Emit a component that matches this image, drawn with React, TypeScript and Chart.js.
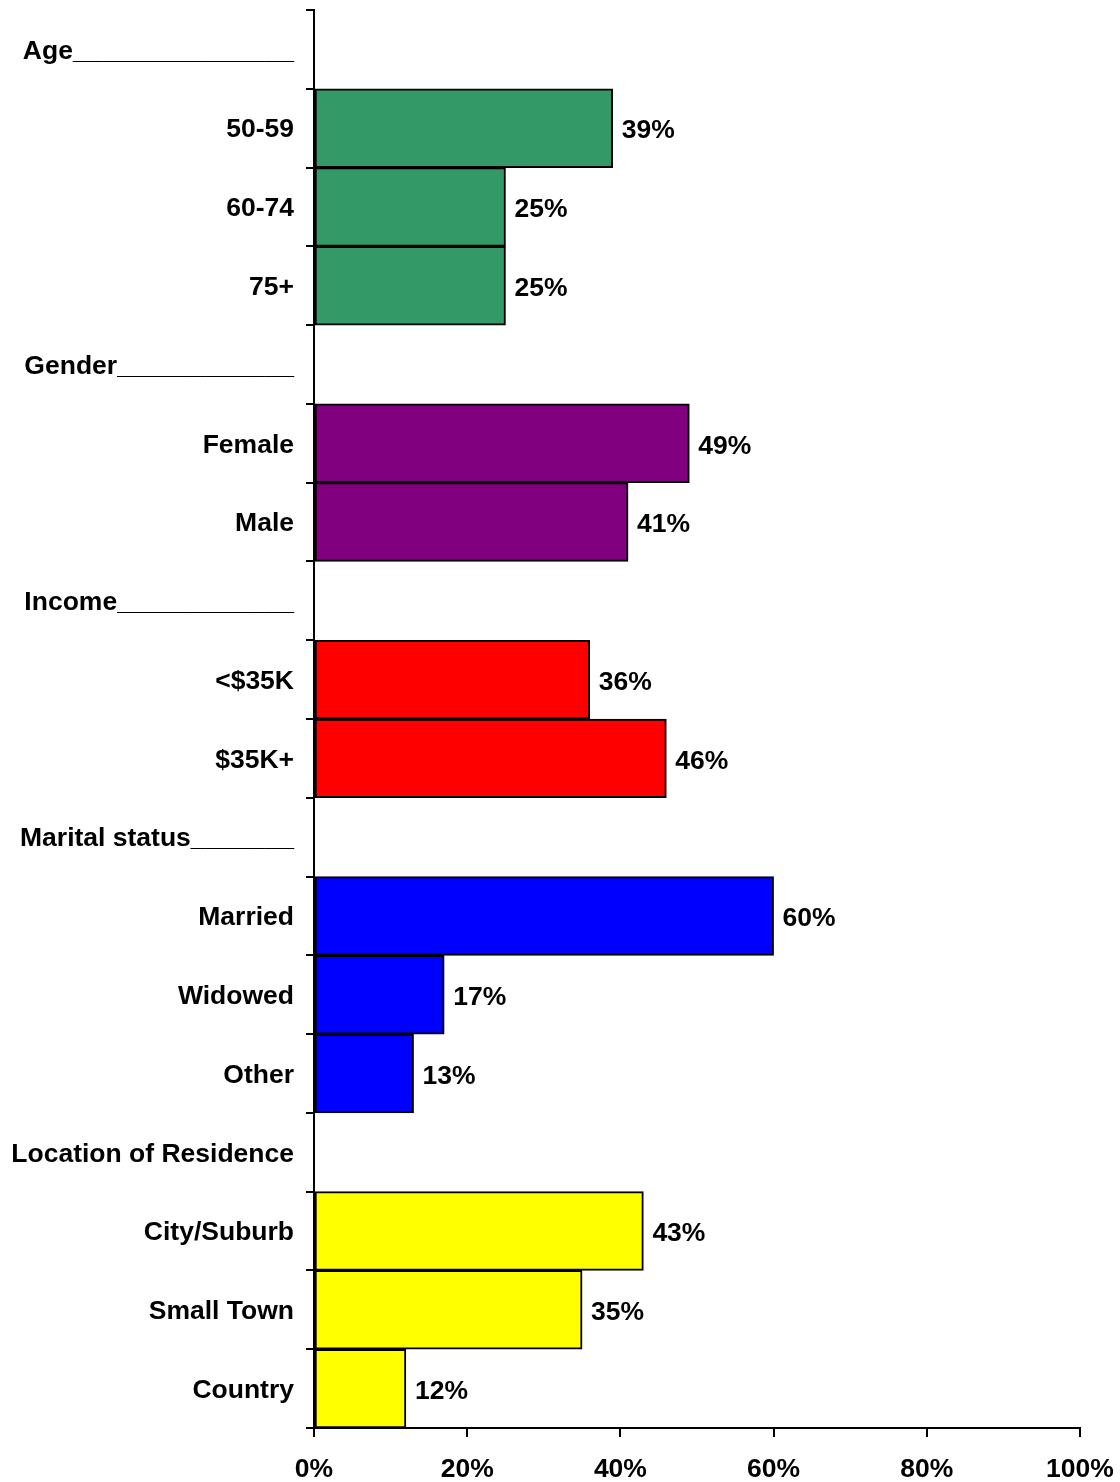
import React, { useEffect, useRef } from "react";
import { Chart, registerables } from "chart.js";

Chart.register(...registerables);

const categories: string[] = [
  "Age_______________",
  "50-59",
  "60-74",
  "75+",
  "Gender____________",
  "Female",
  "Male",
  "Income____________",
  "<$35K",
  "$35K+",
  "Marital status_______",
  "Married",
  "Widowed",
  "Other",
  "Location of Residence",
  "City/Suburb",
  "Small Town",
  "Country",
];

const values: (number | null)[] = [
  null, 39, 25, 25,
  null, 49, 41,
  null, 36, 46,
  null, 60, 17, 13,
  null, 43, 35, 12,
];

const barColors: string[] = [
  "#339966", "#339966", "#339966", "#339966",
  "#800080", "#800080", "#800080",
  "#FF0000", "#FF0000", "#FF0000",
  "#0000FF", "#0000FF", "#0000FF", "#0000FF",
  "#FFFF00", "#FFFF00", "#FFFF00", "#FFFF00",
];

const xTicks: number[] = [0, 20, 40, 60, 80, 100];

const FONT = "'Liberation Sans', Arial, sans-serif";
const FSIZE = 26.5;

const valueLabelPlugin = {
  id: "valueLabels",
  afterDatasetsDraw(chart: any) {
    const ctx = chart.ctx;
    const meta = chart.getDatasetMeta(0);
    ctx.save();
    ctx.font = `bold ${FSIZE}px ${FONT}`;
    ctx.fillStyle = "#000";
    ctx.textAlign = "left";
    ctx.textBaseline = "middle";
    meta.data.forEach((bar: any, i: number) => {
      const v = values[i];
      if (v === null || v === undefined) return;
      ctx.fillText(`${v}%`, bar.x + 9, bar.y + 3);
    });
    ctx.restore();
  },
};

export default function App() {
  const ref = useRef<HTMLCanvasElement>(null);
  useEffect(() => {
    if (!ref.current) return;
    const chart = new Chart(ref.current, {
      type: "bar",
      data: {
        labels: categories,
        datasets: [
          {
            data: values as any,
            backgroundColor: barColors,
            borderColor: "#000",
            borderWidth: 2,
            borderSkipped: false,
            barPercentage: 1,
            categoryPercentage: 1,
          },
        ],
      },
      options: {
        indexAxis: "y",
        animation: false,
        responsive: false,
        layout: { padding: { top: 10, right: 40, left: 0, bottom: 0 } },
        plugins: { legend: { display: false }, tooltip: { enabled: false } },
        scales: {
          x: {
            min: 0,
            max: 100,
            afterFit: (s: any) => {
              s.height = 54;
              s.paddingLeft = 0;
              s.paddingRight = 0;
            },
            afterBuildTicks: (s: any) => {
              s.ticks = xTicks.map((v) => ({ value: v }));
            },
            ticks: {
              callback: (v: any) => `${v}%`,
              color: "#000",
              font: { family: FONT, size: FSIZE, weight: "bold" },
              padding: 17,
              maxRotation: 0,
            },
            grid: {
              drawOnChartArea: false,
              drawTicks: true,
              tickLength: 9,
              color: "#000",
              lineWidth: 2,
            },
            border: { color: "#000", width: 2 },
          },
          y: {
            afterFit: (s: any) => {
              s.width = 314;
              s.paddingTop = 0;
              s.paddingBottom = 0;
            },
            ticks: {
              color: "#000",
              font: { family: FONT, size: FSIZE, weight: "bold" },
              padding: 12,
              labelOffset: 2,
              autoSkip: false,
            },
            grid: {
              offset: true,
              drawOnChartArea: false,
              drawTicks: true,
              tickLength: 8,
              color: "#000",
              lineWidth: 2,
            },
            border: { color: "#000", width: 2 },
          },
        },
      },
      plugins: [valueLabelPlugin],
    });
    return () => chart.destroy();
  }, []);
  return (
    <div style={{ position: "fixed", left: 0, top: 0, width: 1120, height: 1482, background: "#fff" }}>
      <canvas ref={ref} width={1120} height={1482} />
    </div>
  );
}
